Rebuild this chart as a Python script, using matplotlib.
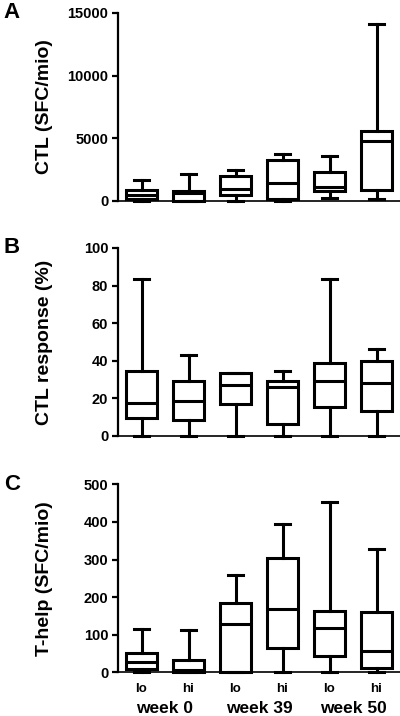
import matplotlib.pyplot as plt

plt.rcParams['font.family'] = ['Liberation Sans', 'DejaVu Sans']
plt.rcParams['font.weight'] = 'bold'

# groups
dose = ['lo', 'hi', 'lo', 'hi', 'lo', 'hi']
weeks = ['week 0', 'week 39', 'week 50']

# A: CTL (SFC/mio)
a_lo = [0, 0, 0, 0, 200, 150]
a_q1 = [150, 30, 480, 150, 820, 850]
a_med = [480, 650, 950, 1450, 1100, 4750]
a_q3 = [870, 830, 2000, 3280, 2300, 5600]
a_hi = [1650, 2120, 2450, 3780, 3550, 14100]

# B: CTL response (%)
b_lo = [0, 0, 0, 0, 0, 0]
b_q1 = [9.7, 8.5, 17, 6.5, 15.2, 13.4]
b_med = [17.5, 18.5, 27, 26, 29.5, 28.4]
b_q3 = [34.8, 29, 33.3, 29.3, 39, 40]
b_hi = [83.4, 42.8, 33.3, 34.6, 83.4, 46.5]

# C: T-help (SFC/mio)
c_lo = [0, 0, 0, 0, 0, 0]
c_q1 = [8, 1, 2, 66, 43.5, 10.7]
c_med = [27.5, 5, 128, 169, 119, 56]
c_q3 = [50.6, 33, 184, 303, 162, 160]
c_hi = [115, 113, 258, 394, 452, 328]


def make_stats(lo, q1, med, q3, hi):
    return [dict(whislo=lo[i], q1=q1[i], med=med[i], q3=q3[i], whishi=hi[i], fliers=[])
            for i in range(len(med))]


fig = plt.figure(figsize=(4, 7.16), dpi=100)

panels = [
    ('A', 'CTL (SFC/mio)', [0, 5000, 10000, 15000], 15000, 0.7193,
     make_stats(a_lo, a_q1, a_med, a_q3, a_hi)),
    ('B', 'CTL response (%)', [0, 20, 40, 60, 80, 100], 100, 0.3911,
     make_stats(b_lo, b_q1, b_med, b_q3, b_hi)),
    ('C', 'T-help (SFC/mio)', [0, 100, 200, 300, 400, 500], 500, 0.061,
     make_stats(c_lo, c_q1, c_med, c_q3, c_hi)),
]

lw = 2.2
for letter, ylabel, yticks, ymax, bottom, stats in panels:
    ax = fig.add_axes([0.295, bottom, 0.705, 0.2626])
    bp = ax.bxp(stats, positions=range(1, 7), widths=0.68, showfliers=False,
                patch_artist=True,
                boxprops=dict(facecolor='white', edgecolor='black', linewidth=lw),
                medianprops=dict(color='black', linewidth=lw),
                whiskerprops=dict(color='black', linewidth=lw),
                capprops=dict(color='black', linewidth=lw))
    for key in bp:
        for art in bp[key]:
            art.set_clip_on(False)
    ax.set_xlim(0.5, 6.5)
    ax.set_ylim(0, ymax)
    ax.set_yticks(yticks)
    ax.set_yticklabels([str(t) for t in yticks], fontsize=10.5, fontweight='bold')
    ax.text(-0.259, 0.5, ylabel, transform=ax.transAxes, rotation=90,
            fontsize=14, fontweight='bold', ha='center', va='center')
    ax.spines['top'].set_visible(False)
    ax.spines['right'].set_visible(False)
    ax.spines['left'].set_linewidth(1.6)
    ax.spines['bottom'].set_linewidth(1.2)
    ax.tick_params(axis='y', length=4, width=1.6, pad=3)
    ax.tick_params(axis='x', length=0)
    # panel letter centred on the top of the axes, near the figure edge
    top = bottom + 0.2626
    fig.text(12 / 400, top, letter, fontsize=16, fontweight='bold',
             ha='center', va='center')
    if letter == 'C':
        ax.set_xticks(range(1, 7))
        ax.set_xticklabels(dose, fontsize=9.5, fontweight='bold')
        ax.tick_params(axis='x', pad=8)
        for i, w in enumerate(weeks):
            ax.text(1.5 + 2 * i, -0.19, w, transform=ax.get_xaxis_transform(),
                    fontsize=12.5, fontweight='bold', ha='center', va='center')
    else:
        ax.set_xticks([])

fig.savefig('out.png', dpi=100)
